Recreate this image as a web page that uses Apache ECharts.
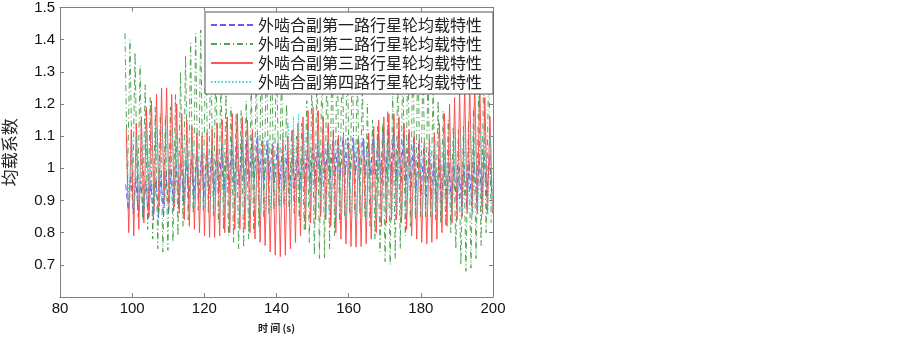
<!DOCTYPE html>
<html>
<head>
<meta charset="utf-8">
<script src="https://cdn.jsdelivr.net/npm/echarts@6/dist/echarts.min.js"></script>
<style>
html, body { margin: 0; padding: 0; background: #fff; }
#main { width: 903px; height: 338px; }
</style>
</head>
<body>
<div id="main"></div>
<script>
// 时间轴: 每个周期一个峰值一个谷值
var t0 = 98;
var period = 1.4;

var names = ['外啮合副第一路行星轮均载特性', '外啮合副第二路行星轮均载特性',
	'外啮合副第三路行星轮均载特性', '外啮合副第四路行星轮均载特性'];

var xTicks = [80, 100, 120, 140, 160, 180, 200];
var yTicks = [0.7, 0.8, 0.9, 1, 1.1, 1.2, 1.3, 1.4, 1.5];

// 第一路 (峰值 / 谷值)
var blueHi = [0.95,0.98,0.97,0.96,0.96,0.96,0.97,0.98,0.99,1.00,
	1.01,1.02,1.025,1.03,1.04,1.045,1.05,1.055,1.06,1.065,
	1.07,1.075,1.08,1.085,1.09,1.095,1.095,1.09,1.085,1.075,
	1.065,1.06,1.055,1.05,1.05,1.055,1.06,1.065,1.07,1.075,
	1.08,1.085,1.09,1.095,1.095,1.095,1.095,1.095,1.10,1.105,
	1.11,1.12,1.125,1.125,1.12,1.115,1.105,1.095,1.08,1.065,
	1.05,1.04,1.03,1.02,1.015,1.01,1.01,1.01,1.015,1.02,
	1.03,1.035,1.04];
var blueLo = [0.87,0.86,0.85,0.845,0.84,0.84,0.845,0.85,0.86,0.87,
	0.88,0.89,0.90,0.905,0.91,0.915,0.92,0.925,0.93,0.935,
	0.94,0.945,0.95,0.955,0.96,0.965,0.965,0.965,0.96,0.955,
	0.95,0.945,0.945,0.94,0.94,0.945,0.95,0.955,0.96,0.965,
	0.97,0.975,0.975,0.98,0.98,0.98,0.98,0.98,0.98,0.975,
	0.97,0.97,0.965,0.96,0.955,0.95,0.94,0.93,0.92,0.91,
	0.905,0.895,0.89,0.885,0.885,0.88,0.88,0.88,0.885,0.89,
	0.90,0.91,0.92];

// 第二路
var greenHi = [1.42,1.40,1.36,1.32,1.26,1.22,1.19,1.17,1.165,1.19,
	1.23,1.30,1.35,1.39,1.42,1.43,1.42,1.39,1.34,1.28,
	1.23,1.19,1.17,1.18,1.21,1.26,1.31,1.36,1.39,1.40,
	1.38,1.30,1.20,1.12,1.10,1.14,1.21,1.27,1.32,1.36,
	1.39,1.41,1.41,1.40,1.38,1.35,1.31,1.26,1.20,1.15,
	1.13,1.14,1.18,1.24,1.30,1.35,1.38,1.39,1.38,1.35,
	1.30,1.25,1.21,1.18,1.15,1.13,1.12,1.13,1.15,1.19,
	1.24,1.29,1.32];
var greenLo = [0.95,0.90,0.87,0.84,0.81,0.78,0.75,0.74,0.745,0.77,
	0.79,0.82,0.84,0.86,0.87,0.87,0.86,0.85,0.83,0.81,
	0.79,0.77,0.75,0.755,0.78,0.80,0.82,0.84,0.86,0.87,
	0.88,0.88,0.87,0.86,0.84,0.81,0.77,0.73,0.72,0.72,
	0.75,0.79,0.83,0.85,0.86,0.86,0.86,0.85,0.82,0.78,
	0.74,0.71,0.70,0.72,0.75,0.79,0.82,0.84,0.85,0.85,
	0.85,0.84,0.83,0.82,0.80,0.75,0.70,0.68,0.69,0.72,
	0.76,0.80,0.83];

// 第三路
var redHi = [1.12,1.12,1.14,1.16,1.19,1.21,1.23,1.25,1.25,1.23,
	1.20,1.17,1.15,1.13,1.11,1.10,1.11,1.12,1.14,1.15,
	1.16,1.17,1.17,1.16,1.15,1.12,1.10,1.08,1.07,1.07,
	1.08,1.09,1.10,1.12,1.14,1.16,1.18,1.19,1.18,1.16,
	1.14,1.12,1.10,1.09,1.08,1.08,1.08,1.09,1.11,1.13,
	1.15,1.16,1.17,1.17,1.16,1.14,1.12,1.10,1.09,1.08,
	1.09,1.11,1.14,1.17,1.20,1.22,1.24,1.26,1.27,1.27,
	1.26,1.22,1.16];
var redLo = [0.80,0.79,0.81,0.83,0.85,0.87,0.88,0.89,0.89,0.88,
	0.86,0.84,0.82,0.81,0.80,0.79,0.785,0.785,0.79,0.80,
	0.80,0.81,0.81,0.81,0.80,0.78,0.77,0.76,0.74,0.73,
	0.725,0.73,0.75,0.77,0.79,0.81,0.83,0.84,0.85,0.84,
	0.82,0.80,0.78,0.765,0.757,0.755,0.757,0.765,0.78,0.80,
	0.82,0.83,0.84,0.84,0.83,0.81,0.79,0.78,0.77,0.765,
	0.77,0.78,0.80,0.82,0.83,0.84,0.85,0.86,0.86,0.86,
	0.86,0.86,0.86];

// 第四路
var cyanHi = [1.06,1.09,1.10,1.11,1.12,1.125,1.13,1.13,1.125,1.12,
	1.11,1.10,1.09,1.08,1.075,1.07,1.07,1.07,1.075,1.08,
	1.085,1.09,1.095,1.10,1.10,1.10,1.10,1.095,1.09,1.09,
	1.10,1.12,1.14,1.16,1.17,1.15,1.12,1.10,1.09,1.09,
	1.085,1.085,1.08,1.08,1.08,1.08,1.085,1.085,1.09,1.09,
	1.095,1.10,1.10,1.10,1.095,1.09,1.09,1.085,1.08,1.08,
	1.08,1.085,1.09,1.095,1.10,1.105,1.11,1.115,1.12,1.12,
	1.115,1.11,1.10];
var cyanLo = [0.87,0.87,0.875,0.88,0.885,0.89,0.89,0.895,0.895,0.89,
	0.89,0.885,0.88,0.88,0.875,0.875,0.87,0.87,0.865,0.865,
	0.86,0.86,0.86,0.86,0.86,0.86,0.86,0.865,0.87,0.875,
	0.88,0.885,0.89,0.89,0.885,0.88,0.87,0.865,0.86,0.855,
	0.85,0.845,0.845,0.84,0.84,0.84,0.84,0.84,0.845,0.845,
	0.85,0.85,0.85,0.855,0.855,0.855,0.855,0.86,0.86,0.86,
	0.86,0.865,0.865,0.865,0.865,0.865,0.86,0.86,0.855,0.855,
	0.855,0.855,0.855];

function wave(hi, lo, offset) {
	var out = [];
	for (var k = 0; k < hi.length; k++) {
		var t = t0 + offset + k * period;
		out.push([t, hi[k]]);
		out.push([t + period / 2, lo[k]]);
	}
	return out;
}

var font = 'Liberation Sans, Arial, sans-serif';
var cjk = 'Noto Sans CJK SC, sans-serif';

function mkSeries(i, hi, lo, offset, color, type) {
	return {
		name: names[i],
		type: 'line',
		symbol: 'none',
		silent: true,
		data: wave(hi, lo, offset),
		lineStyle: { color: color, width: 1, type: type, opacity: 0.9 },
		itemStyle: { color: color }
	};
}

var myChart = echarts.init(document.getElementById('main'), null, { renderer: 'canvas' });
var option = {
	animation: false,
	backgroundColor: '#fff',
	grid: { left: 57, right: 410, top: 7, bottom: 35 },
	legend: {
		data: names,
		orient: 'vertical',
		left: 205,
		top: 12,
		itemWidth: 42,
		itemHeight: 10,
		itemGap: 3,
		padding: [5, 11, 4, 5],
		backgroundColor: '#fff',
		borderColor: '#555',
		borderWidth: 1,
		borderRadius: 0,
		itemStyle: { opacity: 0, borderWidth: 0 },
		textStyle: { fontFamily: cjk, fontSize: 16, color: '#222', lineHeight: 16 }
	},
	xAxis: [{
		type: 'value',
		min: 80, max: 200, interval: 20,
		name: '时 间 (s)',
		nameLocation: 'middle',
		nameGap: 26,
		nameTextStyle: { fontFamily: cjk, fontSize: 10, fontWeight: 'bold', color: '#222' },
		axisLine: { lineStyle: { color: '#808080' } },
		axisTick: { inside: true, length: 4, lineStyle: { color: '#808080' } },
		axisLabel: { fontFamily: font, fontSize: 15, color: '#111', margin: 4 },
		splitLine: { show: false }
	}, {
		type: 'value', position: 'top',
		min: 80, max: 200, interval: 20,
		axisLine: { lineStyle: { color: '#808080' } },
		axisTick: { inside: true, length: 4, lineStyle: { color: '#808080' } },
		axisLabel: { show: false },
		splitLine: { show: false }
	}],
	yAxis: [{
		type: 'value',
		min: 0.6, max: 1.5, interval: 0.1,
		name: '均载系数',
		nameLocation: 'middle',
		nameGap: 42,
		nameTextStyle: { fontFamily: cjk, fontSize: 17, color: '#222' },
		axisLine: { show: true, lineStyle: { color: '#808080' } },
		axisTick: { inside: true, length: 4, lineStyle: { color: '#808080' } },
		axisLabel: {
			fontFamily: font, fontSize: 15, color: '#111', margin: 5,
			formatter: function (v) {
				var r = Math.round(v * 10) / 10;
				return yTicks.indexOf(r) >= 0 ? String(r) : '';
			}
		},
		splitLine: { show: false }
	}, {
		type: 'value', position: 'right',
		min: 0.6, max: 1.5, interval: 0.1,
		axisLine: { show: true, lineStyle: { color: '#808080' } },
		axisTick: { inside: true, length: 4, lineStyle: { color: '#808080' } },
		axisLabel: { show: false },
		splitLine: { show: false }
	}],
	series: [
		mkSeries(0, blueHi, blueLo, 0.2, '#4b4bf0', [6, 3]),
		mkSeries(1, greenHi, greenLo, 0, '#3f9a3f', [6, 3, 1, 3]),
		mkSeries(2, redHi, redLo, 0.35, '#ff4545', 'solid'),
		mkSeries(3, cyanHi, cyanLo, 0.5, '#38cccc', [1.5, 2])
	]
};
myChart.setOption(option);
</script>
</body>
</html>
